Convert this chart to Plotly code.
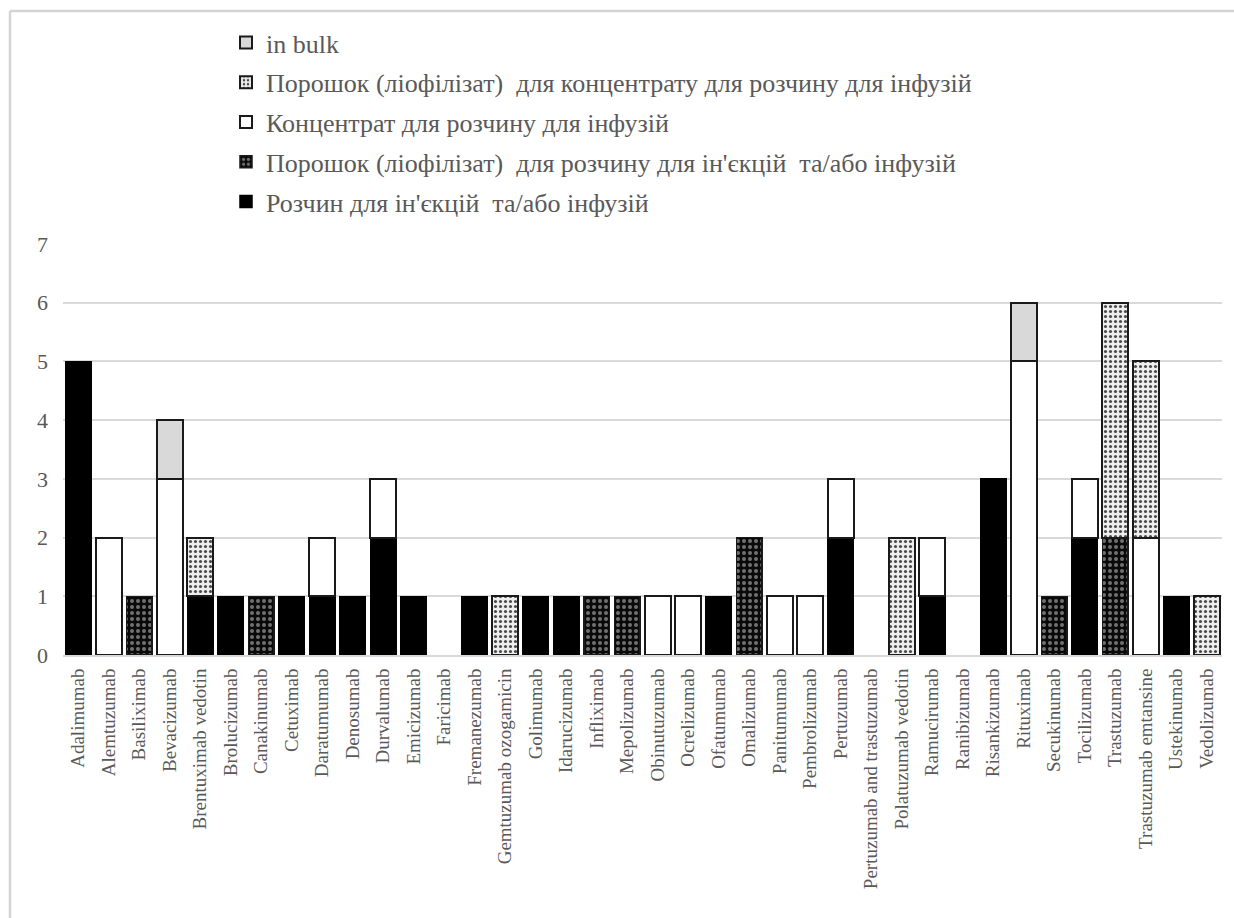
import plotly.graph_objects as go

# Monoclonal antibodies (x-axis categories)
drugs = [
    "Adalimumab", "Alemtuzumab", "Basiliximab", "Bevacizumab", "Brentuximab vedotin",
    "Brolucizumab", "Canakinumab", "Cetuximab", "Daratumumab", "Denosumab",
    "Durvalumab", "Emicizumab", "Faricimab", "Fremanezumab", "Gemtuzumab ozogamicin",
    "Golimumab", "Idarucizumab", "Infliximab", "Mepolizumab", "Obinutuzumab",
    "Ocrelizumab", "Ofatumumab", "Omalizumab", "Panitumumab", "Pembrolizumab",
    "Pertuzumab", "Pertuzumab and trastuzumab", "Polatuzumab vedotin", "Ramucirumab",
    "Ranibizumab", "Risankizumab", "Rituximab", "Secukinumab", "Tocilizumab",
    "Trastuzumab", "Trastuzumab emtansine", "Ustekinumab", "Vedolizumab",
]

# Counts per dosage form (stacked bottom to top)
solution = [5, 0, 0, 0, 1, 1, 0, 1, 1, 1, 2, 1, 0, 1, 0, 1, 1, 0, 0, 0,
            0, 1, 0, 0, 0, 2, 0, 0, 1, 0, 3, 0, 0, 2, 0, 0, 1, 0]
powder_injection = [0, 0, 1, 0, 0, 0, 1, 0, 0, 0, 0, 0, 0, 0, 0, 0, 0, 1, 1, 0,
                    0, 0, 2, 0, 0, 0, 0, 0, 0, 0, 0, 0, 1, 0, 2, 0, 0, 0]
concentrate = [0, 2, 0, 3, 0, 0, 0, 0, 1, 0, 1, 0, 0, 0, 0, 0, 0, 0, 0, 1,
               1, 0, 0, 1, 1, 1, 0, 0, 1, 0, 0, 5, 0, 1, 0, 2, 0, 0]
powder_concentrate = [0, 0, 0, 0, 1, 0, 0, 0, 0, 0, 0, 0, 0, 0, 1, 0, 0, 0, 0, 0,
                      0, 0, 0, 0, 0, 0, 0, 2, 0, 0, 0, 0, 0, 0, 4, 3, 0, 1]
in_bulk = [0, 0, 0, 1, 0, 0, 0, 0, 0, 0, 0, 0, 0, 0, 0, 0, 0, 0, 0, 0,
           0, 0, 0, 0, 0, 0, 0, 0, 0, 0, 0, 1, 0, 0, 0, 0, 0, 0]

series_names = [
    "Розчин для ін'єкцій  та/або інфузій",
    "Порошок (ліофілізат)  для розчину для ін'єкцій  та/або інфузій",
    "Концентрат для розчину для інфузій",
    "Порошок (ліофілізат)  для концентрату для розчину для інфузій",
    "in bulk",
]
y_ticks = [0, 1, 2, 3, 4, 5, 6, 7]

FONT = "Liberation Serif"
TEXT_GREY = "#595959"

W, H = 1234, 918
L, R, T, B = 63, 12, 244, 263
pw, ph = W - L - R, H - T - B

styles = [
    dict(color="#000000", line=dict(color="#000000", width=1.5)),
    dict(color="#111111", line=dict(color="#1a1a1a", width=1.5),
         pattern=dict(shape=".", bgcolor="#0a0a0a", fgcolor="#707070",
                      size=6, solidity=0.35, fillmode="replace")),
    dict(color="#ffffff", line=dict(color="#1a1a1a", width=2)),
    dict(color="#f2f2f2", line=dict(color="#1a1a1a", width=2),
         pattern=dict(shape=".", bgcolor="#eeeeee", fgcolor="#4a4a4a",
                      size=5, solidity=0.3, fillmode="replace")),
    dict(color="#d9d9d9", line=dict(color="#1a1a1a", width=2)),
]

fig = go.Figure()
n_series = len(series_names)
for i, (name, vals, st) in enumerate(zip(
        series_names,
        [solution, powder_injection, concentrate, powder_concentrate, in_bulk],
        styles)):
    fig.add_trace(go.Bar(
        x=drugs,
        y=[v if v else None for v in vals],  # skip empty segments
        name=name, marker=st, legendgroup=name,
        legendrank=n_series - i,  # top layer listed first
    ))

# Light frame around the chart area (top and left edges fall inside the page)
def px_x(p):
    return (p - L) / pw

def px_y(p):
    return (H - B - p) / ph

frame = dict(color="#d4d4d4", width=2.5)
fig.add_shape(type="line", xref="paper", yref="paper",
              x0=px_x(10), x1=px_x(1250), y0=px_y(11), y1=px_y(11), line=frame)
fig.add_shape(type="line", xref="paper", yref="paper",
              x0=px_x(10), x1=px_x(10), y0=px_y(11), y1=px_y(935), line=frame)

fig.update_layout(
    width=W, height=H,
    margin=dict(l=L, r=R, t=T, b=B),
    barmode="stack",
    bargap=0.16,
    plot_bgcolor="white",
    paper_bgcolor="white",
    font=dict(family=FONT, color=TEXT_GREY),
    showlegend=True,
    legend=dict(
        x=px_x(226), y=px_y(19), xanchor="left", yanchor="top",
        traceorder="grouped", tracegroupgap=3,
        font=dict(family=FONT, size=26, color=TEXT_GREY),
        itemwidth=30, bgcolor="rgba(0,0,0,0)",
    ),
    xaxis=dict(
        type="category", range=[-0.5, len(drugs) - 0.5],
        tickangle=-90, tickfont=dict(family=FONT, size=19, color=TEXT_GREY),
        showline=True, linecolor="#d9d9d9", linewidth=2,
        showgrid=False, ticks="", ticklabelstandoff=4,
    ),
    yaxis=dict(
        range=[0, 7], tickvals=y_ticks,
        tickfont=dict(family=FONT, size=22, color=TEXT_GREY),
        showgrid=True, gridcolor="#d9d9d9", gridwidth=1.5,
        zeroline=False, ticks="", ticklabelstandoff=14,
    ),
)

fig.write_html("out.html")
